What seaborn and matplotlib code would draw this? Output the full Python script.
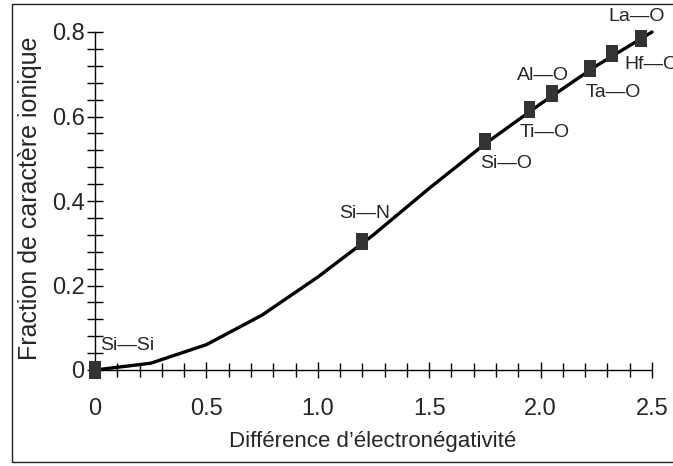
import numpy as np
import matplotlib
matplotlib.use("Agg")
import matplotlib.pyplot as plt
from matplotlib.patches import Rectangle
from matplotlib.ticker import MultipleLocator, FixedLocator, FixedFormatter
import seaborn as sns

# curve: ionic character vs electronegativity difference
curve_x = [0, 0.25, 0.5, 0.75, 1.0, 1.25, 1.5, 1.75, 2.0, 2.25, 2.5]
curve_y = [0, 0.016, 0.06, 0.13, 0.22, 0.32, 0.43, 0.535, 0.63, 0.72, 0.80]

# bonds marked on the curve
bonds = ["Si—Si", "Si—N", "Si—O", "Ti—O", "Al—O", "Ta—O", "Hf—O", "La—O"]
bond_x = [0, 1.2, 1.75, 1.95, 2.05, 2.22, 2.32, 2.45]
bond_y = [0, 0.305, 0.54, 0.617, 0.655, 0.713, 0.748, 0.785]
# label offsets in pixels from each marker
label_dx = [32, 2, 21, 15, -9, 24, 40, -4]
label_dy = [25, 28, -22, -23, 18, -24, -11, 22]

x_ticks = [0, 0.5, 1.0, 1.5, 2.0, 2.5]
x_labels = ["0", "0.5", "1.0", "1.5", "2.0", "2.5"]
y_ticks = [0, 0.2, 0.4, 0.6, 0.8]
y_labels = ["0", "0.2", "0.4", "0.6", "0.8"]

sns.set_style("white")
plt.rcParams["font.family"] = ["Liberation Sans", "DejaVu Sans"]

fig = plt.figure(figsize=(6.73, 4.66), dpi=100)
ax = fig.add_axes([95 / 673, 1 - 370 / 466, 557 / 673, 338 / 466])

sns.lineplot(x=curve_x, y=curve_y, ax=ax, color="black", lw=2.4, clip_on=False, zorder=3)

box = [(-0.35, -0.5), (0.35, -0.5), (0.35, 0.5), (-0.35, 0.5), (-0.35, -0.5)]
sns.scatterplot(x=bond_x, y=bond_y, ax=ax, marker=box, s=150, color="#333333",
                edgecolor="none", clip_on=False, zorder=4)

for name, bx, by, dx, dy in zip(bonds, bond_x, bond_y, label_dx, label_dy):
    ax.annotate(name, (bx, by), xytext=(dx, dy), textcoords="offset pixels",
                ha="center", va="center", fontsize=14, annotation_clip=False)

ax.set_xlim(0, 2.5)
ax.set_ylim(0, 0.8)

for side in ["top", "right"]:
    ax.spines[side].set_visible(False)
for side in ["left", "bottom"]:
    ax.spines[side].set_color("black")
    ax.spines[side].set_linewidth(1.0)

ax.xaxis.set_major_locator(FixedLocator(x_ticks))
ax.xaxis.set_major_formatter(FixedFormatter(x_labels))
ax.xaxis.set_minor_locator(MultipleLocator(0.1))
ax.yaxis.set_major_locator(FixedLocator(y_ticks))
ax.yaxis.set_major_formatter(FixedFormatter(y_labels))
ax.yaxis.set_minor_locator(MultipleLocator(0.04))

ax.tick_params(axis="x", which="major", direction="inout", length=12, width=1,
               pad=14, labelsize=17, bottom=True, color="black")
ax.tick_params(axis="x", which="minor", direction="inout", length=10, width=1,
               bottom=True, color="black")
ax.tick_params(axis="y", which="both", direction="inout", length=11, width=1,
               pad=2, labelsize=17, left=True, color="black")

ax.set_xlabel("Différence d’électronégativité", fontsize=16)
ax.set_ylabel("Fraction de caractère ionique", fontsize=18)
ax.xaxis.set_label_coords((373 - 95) / 557, (370 - 441) / 338)
ax.xaxis.label.set_va("center")
ax.yaxis.set_label_coords((30 - 95) / 557, (370 - 198) / 338)
ax.yaxis.label.set_va("center")

# frame around the whole picture (right edge is cut off in the original)
fig.patches.append(Rectangle((12 / 673, 4 / 466), 1.2, 458 / 466, transform=fig.transFigure,
                             fill=False, edgecolor="#222222", lw=1.0, clip_on=False))

fig.savefig("out.png", dpi=100)
